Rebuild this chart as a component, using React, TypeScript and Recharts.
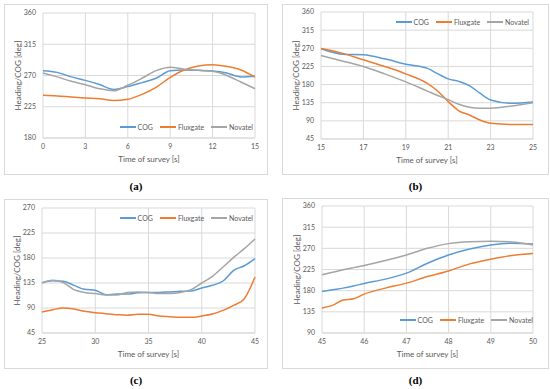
import React from 'react';
import { LineChart, Line, XAxis, YAxis, CartesianGrid, Legend } from 'recharts';

// (a) 0-15 s
const TIME_A = [0, 1, 2, 3, 4, 5, 6, 7, 8, 9, 10, 11, 12, 13, 14, 15];
const COG_A = [277, 274.5, 268, 263, 257, 250, 254, 259.7, 266, 277, 278, 277.4, 276.5, 273.6, 268, 269];
const FLUX_A = [241.4, 240.5, 239, 237.6, 236.6, 234, 235.7, 242.9, 253, 267.3, 278, 283.7, 285.6, 283, 278, 267.8];
const NOV_A = [273.6, 268, 261.6, 256.8, 251, 248, 256, 266, 277, 282, 279, 277.4, 276, 270, 260.6, 251];

// (b) 15-25 s
const TIME_B = [15, 16, 17, 18, 19, 20, 20.5, 21, 21.5, 22, 22.5, 23, 24, 25];
const COG_B = [268.8, 255.5, 254, 244, 230.6, 220.7, 207, 194.2, 188, 177.6, 158.5, 141.9, 133.6, 137];
const FLUX_B = [269.6, 258, 241.4, 225, 206.6, 183.4, 164, 137.8, 115, 104.6, 92, 84, 81, 81];
const NOV_B = [252, 238.7, 225, 206.6, 186.7, 164.3, 153, 142.8, 131, 123.7, 121, 121.3, 127, 135];

// (c) 25-45 s
const TIME_C = [25, 26, 27, 28, 29, 30, 31, 32, 33, 34, 35, 36, 37, 38, 39, 40, 41, 42, 43, 44, 45];
const COG_C = [135.6, 139, 138, 130.8, 123.6, 121.8, 114, 115, 115, 117.4, 118, 118, 119, 120, 120.5, 126, 130.8, 138.6, 157.8, 166, 178.8];
const FLUX_C = [82.8, 87, 90, 88.2, 84, 81.6, 79.8, 78, 76.8, 78.6, 78.6, 75.6, 74.4, 73.2, 73.2, 75.6, 79.2, 85.8, 94.8, 106.8, 145.8];
const NOV_C = [135, 139.8, 135.6, 123, 118, 116, 113.4, 113.4, 118, 119, 118, 116, 116, 118, 123, 135, 147, 163.8, 181.2, 196.8, 214.2];

// (d) 45-50 s
const TIME_D = [45, 45.25, 45.5, 45.75, 46, 46.5, 47, 47.5, 48, 48.5, 49, 49.5, 50];
const COG_D = [178.4, 182, 185.4, 190, 195.3, 204.5, 217.2, 238.4, 256, 268.8, 277.3, 280.8, 279.4];
const FLUX_D = [143, 148.7, 160, 162.8, 172.7, 185.4, 196, 210, 222, 237, 247, 254.8, 259];
const NOV_D = [213.7, 219, 224.3, 229, 233.5, 244, 256, 270, 280, 284, 285, 283.7, 277.3];

const X_TICKS_A = [0, 3, 6, 9, 12, 15];
const Y_TICKS_A = [180, 225, 270, 315, 360];
const X_TICKS_B = [15, 17, 19, 21, 23, 25];
const Y_TICKS_B = [45, 90, 135, 180, 225, 270, 315, 360];
const X_TICKS_C = [25, 30, 35, 40, 45];
const Y_TICKS_C = [45, 90, 135, 180, 225, 270];
const X_TICKS_D = [45, 46, 47, 48, 49, 50];
const Y_TICKS_D = [90, 135, 180, 225, 270, 315, 360];

const SERIES = [
  { key: 'cog', name: 'COG', color: '#5b9bd5' },
  { key: 'flux', name: 'Fluxgate', color: '#ed7d31' },
  { key: 'nov', name: 'Novatel', color: '#a5a5a5' },
];

const FONT = 'Lato, "Open Sans", sans-serif';
const TEXT = '#595959';
const GRID = '#d9d9d9';

const rows = (t: number[], c: number[], f: number[], n: number[]) =>
  t.map((v, i) => ({ t: v, cog: c[i], flux: f[i], nov: n[i] }));

type Box = { x: number; y: number; w: number; h: number };
type Plot = { x1: number; y1: number; x2: number; y2: number };

function LegendRow() {
  return (
    <div style={{ display: 'flex', alignItems: 'center', justifyContent: 'flex-end', fontFamily: FONT, fontSize: 7, color: TEXT, whiteSpace: 'nowrap' }}>
      {SERIES.map((s, i) => (
        <div key={s.key} style={{ display: 'flex', alignItems: 'center', marginLeft: i ? 7 : 0 }}>
          <div style={{ width: 16, height: 2, background: s.color, marginRight: 2 }} />
          <span>{s.name}</span>
        </div>
      ))}
    </div>
  );
}

function Panel(props: {
  box: Box; plot: Plot; data: any[]; xTicks: number[]; yTicks: number[];
  legendY: number; legendRight: number; caption: string;
}) {
  const { box, plot, data, xTicks, yTicks, legendY, legendRight, caption } = props;
  const cw = box.w - 2;
  const ch = box.h - 2;
  const ox = box.x + 1;
  const oy = box.y + 1;
  const pl = plot.x1 - ox;
  const pt = plot.y1 - oy;
  const pr = ox + cw - plot.x2;
  const pb = oy + ch - plot.y2;
  const tick = { fontFamily: FONT, fontSize: 7, fill: TEXT };
  return (
    <>
      <div style={{ position: 'absolute', left: box.x, top: box.y, width: box.w, height: box.h, boxSizing: 'border-box', border: `1px solid ${GRID}` }}>
        <LineChart width={cw} height={ch} data={data} margin={{ top: pt, right: pr, bottom: 0, left: 0 }}>
          <CartesianGrid stroke={GRID} strokeWidth={1} />
          <XAxis
            dataKey="t" type="number" domain={[xTicks[0], xTicks[xTicks.length - 1]]} ticks={xTicks}
            height={pb} tickLine={false} axisLine={{ stroke: GRID }} tickSize={0} tickMargin={6} tick={tick}
            interval={0}
            label={({ viewBox }: any) => (
              <text x={viewBox.x + viewBox.width / 2} y={viewBox.y + 22} textAnchor="middle" dominantBaseline="middle"
                fontFamily={FONT} fontSize={8} fill={TEXT}>Time of survey [s]</text>
            )}
          />
          <YAxis
            type="number" domain={[yTicks[0], yTicks[yTicks.length - 1]]} ticks={yTicks} width={pl}
            tickLine={false} axisLine={false} tickSize={0} tickMargin={7} tick={tick} interval={0}
            label={({ viewBox }: any) => {
              const x = viewBox.x + viewBox.width - 24;
              const y = viewBox.y + viewBox.height / 2;
              return (
                <text x={x} y={y} transform={`rotate(-90 ${x} ${y})`} textAnchor="middle" dominantBaseline="middle"
                  fontFamily={FONT} fontSize={8} fill={TEXT}>Heading/COG [deg]</text>
              );
            }}
          />
          <Legend
            layout="horizontal" verticalAlign="middle" align="center"
            content={() => <LegendRow />}
            wrapperStyle={{ position: 'absolute', top: legendY - oy - 5, right: legendRight, left: 'auto', bottom: 'auto', width: 140, height: 10 }}
          />
          {SERIES.map((s) => (
            <Line key={s.key} dataKey={s.key} name={s.name} type="monotone" stroke={s.color} strokeWidth={1.5}
              dot={false} isAnimationActive={false} />
          ))}
        </LineChart>
      </div>
      <div style={{ position: 'absolute', left: box.x, width: box.w, top: box.y + box.h + 5, textAlign: 'center',
        fontFamily: '"Liberation Serif", serif', fontWeight: 'bold', fontSize: 11, color: '#000' }}>
        ({caption})
      </div>
    </>
  );
}

export default function App() {
  return (
    <div style={{ position: 'absolute', left: 0, top: 0, width: 550, height: 389, background: '#fff', overflow: 'hidden' }}>
      <Panel box={{ x: 4, y: 4, w: 264, h: 171 }} plot={{ x1: 43, y1: 13, x2: 255, y2: 138 }}
        data={rows(TIME_A, COG_A, FLUX_A, NOV_A)} xTicks={X_TICKS_A} yTicks={Y_TICKS_A}
        legendY={128} legendRight={14} caption="a" />
      <Panel box={{ x: 282, y: 4, w: 267, h: 171 }} plot={{ x1: 321, y1: 12, x2: 533, y2: 139 }}
        data={rows(TIME_B, COG_B, FLUX_B, NOV_B)} xTicks={X_TICKS_B} yTicks={Y_TICKS_B}
        legendY={23} legendRight={19} caption="b" />
      <Panel box={{ x: 4, y: 199, w: 264, h: 170 }} plot={{ x1: 42, y1: 208, x2: 255, y2: 333 }}
        data={rows(TIME_C, COG_C, FLUX_C, NOV_C)} xTicks={X_TICKS_C} yTicks={Y_TICKS_C}
        legendY={219} legendRight={14} caption="c" />
      <Panel box={{ x: 282, y: 198, w: 267, h: 171 }} plot={{ x1: 322, y1: 206, x2: 533, y2: 333 }}
        data={rows(TIME_D, COG_D, FLUX_D, NOV_D)} xTicks={X_TICKS_D} yTicks={Y_TICKS_D}
        legendY={321} legendRight={15} caption="d" />
    </div>
  );
}
